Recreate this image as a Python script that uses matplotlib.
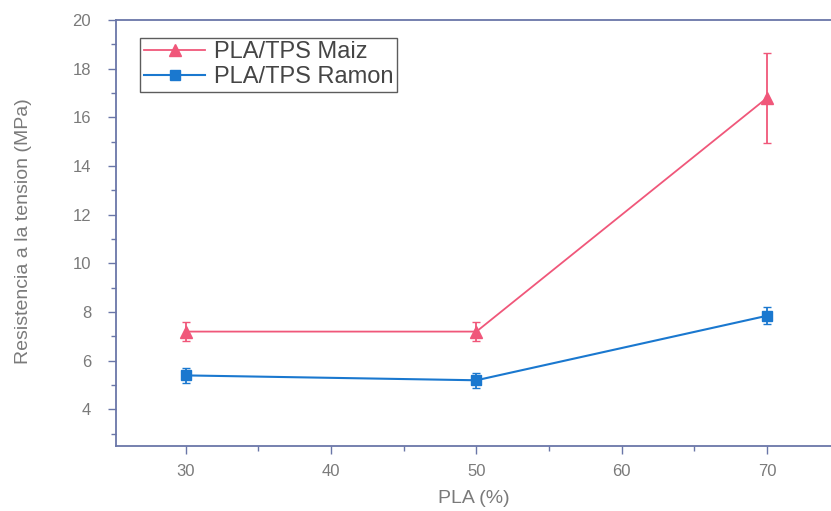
import matplotlib
matplotlib.use("Agg")
import matplotlib.pyplot as plt
from matplotlib.ticker import MultipleLocator

plt.rcParams["font.family"] = ["Liberation Sans", "DejaVu Sans"]

# data
pla = [30, 50, 70]
maiz = [7.2, 7.2, 16.8]
maiz_err = [0.4, 0.4, 1.85]
ramon = [5.4, 5.2, 7.85]
ramon_err = [0.3, 0.3, 0.35]

pink = "#f0577a"
blue = "#1a78cf"
axis_col = "#6a76a8"
text_col = "#7a7a7a"

fig = plt.figure(figsize=(8.31, 5.11), dpi=100)
ax = fig.add_axes([0.1396, 0.1272, 0.8604, 0.8337])

# error bars drawn separately so the legend handles stay plain
ax.errorbar(pla, maiz, yerr=maiz_err, fmt="none", ecolor=pink, elinewidth=1.3, capsize=3)
ax.errorbar(pla, ramon, yerr=ramon_err, fmt="none", ecolor=blue, elinewidth=1.3, capsize=3)
ax.plot(pla, maiz, color=pink, marker="^", markersize=8, lw=1.3, label="PLA/TPS Maiz")
ax.plot(pla, ramon, color=blue, marker="s", markersize=7, lw=1.5, label="PLA/TPS Ramon")

ax.set_xlim(25.2, 74.4)
ax.set_ylim(2.5, 20)
ax.xaxis.set_major_locator(MultipleLocator(10))
ax.xaxis.set_minor_locator(MultipleLocator(5))
ax.yaxis.set_minor_locator(MultipleLocator(1))
ax.set_yticks([4, 6, 8, 10, 12, 14, 16, 18, 20])

for side in ["left", "bottom", "top"]:
    ax.spines[side].set_color(axis_col)
    ax.spines[side].set_linewidth(1.3)
ax.spines["right"].set_visible(False)

ax.tick_params(which="major", direction="out", length=6, width=1, color=axis_col,
               labelcolor=text_col, labelsize=12)
ax.tick_params(axis="y", which="major", pad=12)
ax.tick_params(axis="x", which="major", pad=7)
ax.tick_params(which="minor", direction="out", length=3.5, width=1, color=axis_col)

ax.set_xlabel("PLA (%)", fontsize=14, color=text_col, labelpad=8)
ax.set_ylabel("Resistencia a la tension (MPa)", fontsize=14, color=text_col)
ax.yaxis.set_label_coords(-0.1175, 0.505)

leg = ax.legend(loc="upper left", bbox_to_anchor=(0.034, 0.958), borderaxespad=0,
                fontsize=17, handlelength=2.6, handletextpad=0.35, labelspacing=0.12,
                borderpad=0.15, fancybox=False, frameon=True)
leg.get_frame().set_edgecolor("#333333")
leg.get_frame().set_linewidth(1)
for t in leg.get_texts():
    t.set_color("#454545")

fig.savefig("out.png", dpi=100)
